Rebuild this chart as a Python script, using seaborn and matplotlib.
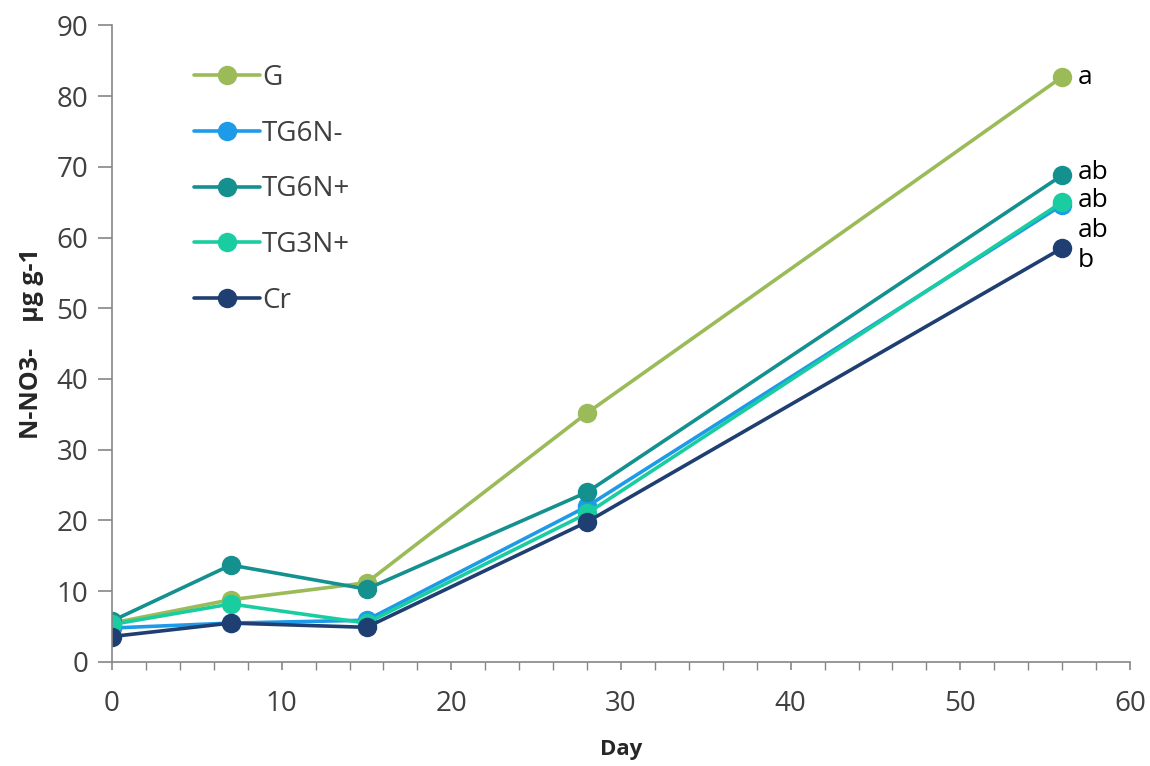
import matplotlib
matplotlib.use("Agg")
import matplotlib.pyplot as plt
import seaborn as sns
import pandas as pd
from matplotlib.ticker import MultipleLocator

days = [0, 7, 15, 28, 56]
series_names = ["G", "TG6N-", "TG6N+", "TG3N+", "Cr"]
G = [5.5, 8.8, 11.2, 35.2, 82.7]
TG6Nm = [4.8, 5.5, 5.9, 22.0, 64.6]
TG6Np = [5.8, 13.7, 10.3, 24.0, 68.8]
TG3Np = [5.3, 8.2, 5.5, 21.0, 65.0]
Cr = [3.6, 5.5, 4.9, 19.8, 58.5]
colors = ["#9BBB59", "#1E9BE8", "#14908F", "#1ACDA0", "#1F3F73"]

sig_letters = ["a", "ab", "ab", "ab", "b"]
sig_y = [82.6, 69.2, 65.3, 61.0, 56.8]
sig_x = 56.9

values = [G, TG6Nm, TG6Np, TG3Np, Cr]
rows = []
for name, vals in zip(series_names, values):
    for d, v in zip(days, vals):
        rows.append({"Day": d, "value": v, "series": name})
df = pd.DataFrame(rows)

sns.set_theme(style="white")
plt.rcParams['font.family'] = ['Open Sans', 'DejaVu Sans']

fig = plt.figure(figsize=(11.5, 7.66), dpi=100)
ax = fig.add_axes([0.0974, 0.1358, 0.8852, 0.8312])

sns.lineplot(data=df, x="Day", y="value", hue="series", hue_order=series_names,
             palette=colors, marker="o", markersize=14, linewidth=2.6,
             markeredgewidth=0, ax=ax, legend=True)

ax.set_xlim(0, 60)
ax.set_ylim(0, 90)
ax.xaxis.set_major_locator(MultipleLocator(10))
ax.xaxis.set_minor_locator(MultipleLocator(2))
ax.yaxis.set_major_locator(MultipleLocator(10))
for s in ["top", "right"]:
    ax.spines[s].set_visible(False)
for s in ["left", "bottom"]:
    ax.spines[s].set_color("#868686")
    ax.spines[s].set_linewidth(1.2)
ax.tick_params(axis="y", which="major", direction="out", length=10, width=1.2,
               color="#868686", labelsize=20, labelcolor="#404040", pad=7, left=True)
ax.tick_params(axis="x", which="major", direction="out", length=6, width=1.2,
               color="#868686", labelsize=20, labelcolor="#404040", pad=14, bottom=True)
ax.tick_params(axis="x", which="minor", direction="out", length=6, width=1.0,
               color="#868686", bottom=True)

ax.set_xlabel("Day", fontsize=16, fontweight="bold", color="#262626", labelpad=15)
ax.set_ylabel("N-NO3-    µg g-1", fontsize=18, fontweight="bold", color="#262626", labelpad=9)

for t, yv in zip(sig_letters, sig_y):
    ax.text(sig_x, yv, t, fontsize=19, color="black", va="center", ha="left")

leg = ax.legend(loc="upper left", bbox_to_anchor=(0.07, 0.957), frameon=False,
                fontsize=20, labelspacing=1.0, handlelength=2.35, handletextpad=0.08,
                borderaxespad=0)
for txt in leg.get_texts():
    txt.set_color("#404040")

fig.savefig("out.png", dpi=100)
